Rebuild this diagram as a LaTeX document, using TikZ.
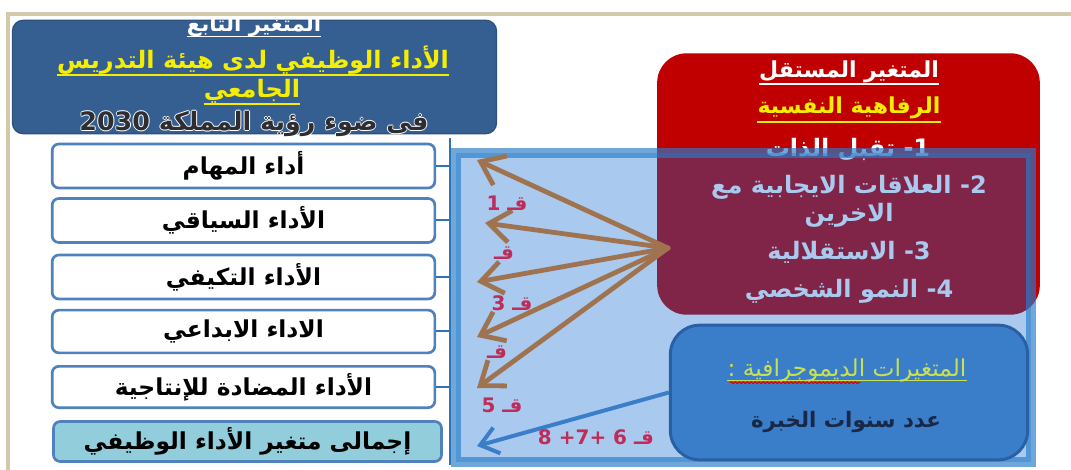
\documentclass[tikz,border=0pt]{standalone}
\usepackage{fontspec}
\usetikzlibrary{arrows.meta,calc,decorations.pathmorphing}
\TeXXeTstate=1
\newfontfamily\arfont[Script=Arabic]{DejaVu Sans}
\newcommand\RL[1]{\beginR #1\endR}
\definecolor{titleblue}{RGB}{54,95,145}
\definecolor{titleborder}{RGB}{45,80,125}
\definecolor{boxborder}{RGB}{79,129,189}
\definecolor{totalfill}{RGB}{146,205,220}
\definecolor{vlinec}{RGB}{46,117,182}
\definecolor{ovfill}{RGB}{9,106,209}
\definecolor{ovborder}{RGB}{39,124,202}
\definecolor{indred}{RGB}{192,0,0}
\definecolor{arrbrown}{RGB}{160,115,80}
\definecolor{demofill}{RGB}{58,125,201}
\definecolor{demoborder}{RGB}{40,95,165}
\definecolor{lblred}{RGB}{190,45,90}
\definecolor{beige}{RGB}{210,200,170}
\definecolor{ygreen}{RGB}{200,225,80}
\definecolor{navytext}{RGB}{25,40,70}
\definecolor{darktext}{RGB}{45,45,50}
\definecolor{tyellow}{RGB}{245,238,0}
\begin{document}
\begin{tikzpicture}[x=0.75pt,y=-0.75pt,
  artext/.style={inner sep=0pt, font=\arfont\bfseries\fontsize{#1}{#1}\selectfont},
  arthin/.style={inner sep=0pt, font=\arfont\fontsize{#1}{#1}\selectfont},
  dimbox/.style={draw=boxborder, line width=2pt, rounded corners=5pt, fill=white,
    minimum width=287pt, minimum height=32pt, inner sep=0pt,
    font=\arfont\bfseries\fontsize{17.5}{17.5}\selectfont},
  brownarrow/.style={draw=arrbrown, line width=3.6pt, line cap=round,
    -{Straight Barb[length=16pt,width=24pt,line width=3.6pt]}},
  bluearrow/.style={draw=demofill, line width=3pt,
    -{Straight Barb[length=13pt,width=20pt,line width=3pt]}},
  qlabel/.style={artext=15, text=lblred}
]
\useasboundingbox (0,0) rectangle (1071,470);
\fill[white] (0,0) rectangle (1071,470);

% dependent variable title box
\node[draw=titleborder, fill=titleblue, line width=1pt, rounded corners=8pt,
  minimum width=363pt, minimum height=85pt] (dep) at (254.5,77) {};
\node[artext=16, text=white] (depA) at (254,26) {\RL{المتغير التابع}};
\draw[white, line width=1pt] ([yshift=-4pt]depA.base west) -- ([yshift=-4pt]depA.base east);
\node[artext=18, text=tyellow] (depB) at (253,60) {\RL{الأداء الوظيفي لدى هيئة التدريس}};
\draw[tyellow, line width=1.2pt] ([yshift=-5pt]depB.base west) -- ([yshift=-5pt]depB.base east);
\node[artext=18, text=tyellow] (depC) at (252,91) {\RL{الجامعي}};
\draw[tyellow, line width=1.2pt] ([yshift=-5pt]depC.base west) -- ([yshift=-5pt]depC.base east);
\foreach \dx/\dy in {0.7/0,-0.7/0,0/0.7,0/-0.7}{
  \node[artext=19, text=white, xshift=\dx pt, yshift=\dy pt] at (254,124) {\RL{فى ضوء رؤية المملكة \beginL 2030\endL}};
}
\node[artext=19, text=darktext] (depD) at (254,124) {\RL{فى ضوء رؤية المملكة \beginL 2030\endL}};

% frame
\draw[beige, line width=2.6pt] (8,470) -- (8,14) -- (1071,14);

% dimension boxes
\node[dimbox, minimum height=33pt] (b1) at (243.5,166) {\RL{أداء المهام}};
\node[dimbox, minimum height=33pt] (b2) at (243.5,220.5) {\RL{الأداء السياقي}};
\node[dimbox, minimum height=33pt] (b3) at (243.5,277) {\RL{الأداء التكيفي}};
\node[dimbox, minimum height=32pt] (b4) at (243.5,331.5) {\RL{الاداء الابداعي}};
\node[dimbox, minimum height=31pt] (b5) at (243.5,387) {\RL{الأداء المضادة للإنتاجية}};
\node[dimbox, fill=totalfill, minimum width=291pt, minimum height=30pt] (b6) at (247.5,441.5) {\RL{إجمالى متغير الأداء الوظيفي}};

% independent variable red box
\node[fill=indred, rounded corners=22pt, minimum width=287pt, minimum height=196pt] (ind) at (848.5,184) {};
\node[artext=16.5, text=white] (indA) at (849,72) {\RL{المتغير المستقل}};
\draw[white, line width=1.3pt] ([yshift=-5pt]indA.base west) -- ([yshift=-5pt]indA.base east);
\node[artext=16.5, text=tyellow] (indB) at (849,108) {\RL{الرفاهية النفسية}};
\draw[tyellow, line width=1.3pt] ([yshift=-6pt]indB.base west) -- ([yshift=-6pt]indB.base east);
\node[artext=18, text=white] (i1) at (848,150) {\RL{1\kern0pt- تقبل الذات}};
\node[artext=18, text=white] (i2) at (849,187) {\RL{2\kern0pt- العلاقات الايجابية مع}};
\node[artext=18, text=white] (i2b) at (849,215) {\RL{الاخرين}};
\node[artext=18, text=white] (i3) at (849,252) {\RL{3\kern0pt- الاستقلالية}};
\node[artext=18, text=white] (i4) at (849,291) {\RL{4\kern0pt- النمو الشخصي}};

% translucent overlay rectangle
\node[fill=ovfill, fill opacity=0.35, draw=ovborder, draw opacity=0.667, line width=7.5pt,
  minimum width=431pt, minimum height=232pt] (ov) at (743.5,307.5) {};

% vertical connector line
\coordinate (vtop) at (450,138);
\coordinate (vbot) at (450,465);
\draw[vlinec, line width=2.2pt] (vtop) -- (vbot);
\foreach \b in {b1,b2,b3,b4,b5}{
  \draw[vlinec, line width=1.5pt] (\b.east) -- (\b.east -| vtop);
}

% demographic box
\node[draw=demoborder, fill=demofill, line width=2.2pt, rounded corners=22pt,
  minimum width=268pt, minimum height=101pt] (demo) at (849,392.5) {};
\node[arthin=17.5, text=ygreen] (demA) at (847,370) {\RL{المتغيرات الديموجرافية :}};
\draw[ygreen, line width=1pt] ([yshift=-3.5pt]demA.base west) -- ([yshift=-3.5pt]demA.base east);
\draw[red!80!black, line width=0.7pt, decorate, decoration={snake, amplitude=0.7pt, segment length=3pt}]
  ([yshift=-5pt,xshift=2pt]demA.base west) -- ([yshift=-5pt,xshift=-80pt]demA.base east);
\node[artext=16, text=navytext] (demB) at (846,422) {\RL{عدد سنوات الخبرة}};

% arrows
\coordinate (src) at (668,248);
\coordinate (t1) at (477,160);
\coordinate (t2) at (485,223);
\coordinate (t3) at (477,282);
\coordinate (t4) at (477,337);
\coordinate (t5) at (477,388);
\coordinate (t6) at (477,446);
\foreach \t in {t1,t2,t3,t4,t5}{
  \draw[brownarrow] (src) -- (\t);
}
\draw[bluearrow] (demo.west) -- (t6);

% hypothesis labels
\node[qlabel] (q1) at (507,203) {\RL{قـ 1}};
\node[qlabel] (q2) at (504,253) {\RL{قـ}};
\node[qlabel] (q3) at (512,303) {\RL{قـ 3}};
\node[qlabel] (q4) at (497,352) {\RL{قـ}};
\node[qlabel] (q5) at (502,405) {\RL{قـ 5}};
\node[qlabel] (q6) at (596,437) {\RL{قـ 6 +7+ 8}};
\end{tikzpicture}
\end{document}
